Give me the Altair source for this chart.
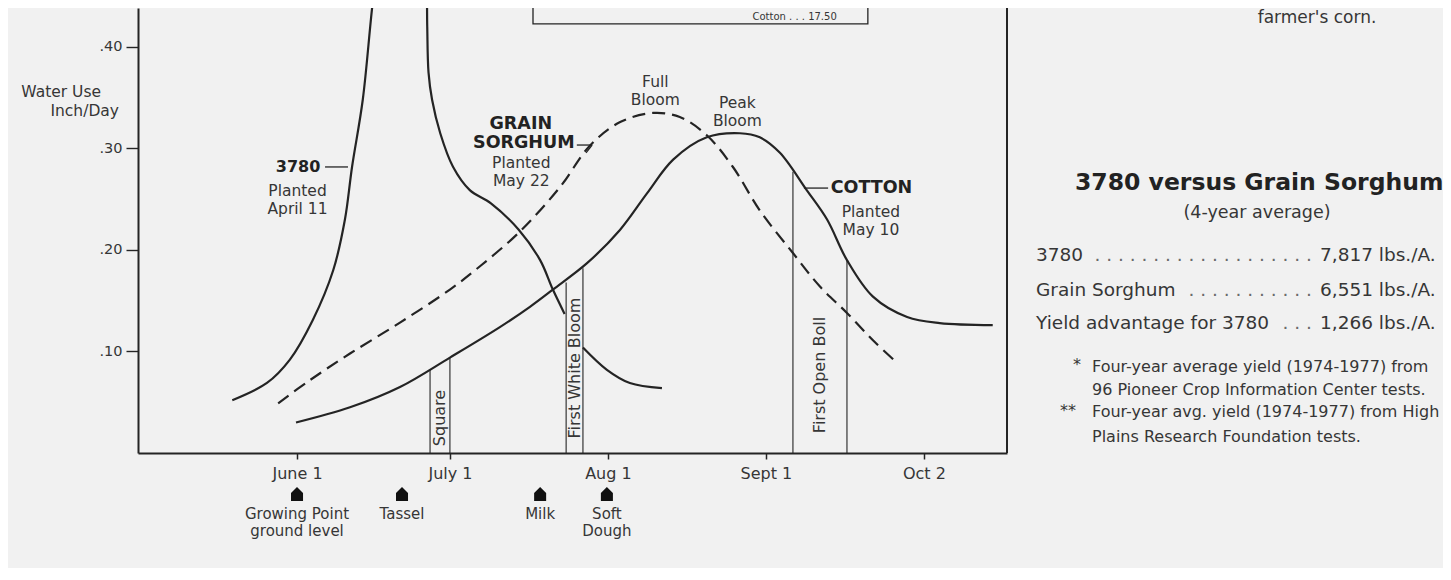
import altair as alt
import pandas as pd

# ---------------- data (day of year 1978, water use inch/day) ----------------
corn_day = [139.3, 146.1, 150.6, 155.1, 159.1, 161.4, 162.8, 164.9, 166.9, 168.5,
            171.0, 174.0, 176.5, 177.4, 177.55, 177.8, 178.5, 180.1, 182.6, 185.9,
            190.05, 195.5, 199.7, 202.2, 204.5, 208.1, 212.8, 217.3, 223.6]
corn_use = [0.052, 0.069, 0.092, 0.131, 0.180, 0.230, 0.282, 0.348, 0.446, 0.505,
            0.545, 0.560, 0.530, 0.470, 0.420, 0.375, 0.348, 0.315, 0.282, 0.259,
            0.246, 0.220, 0.190, 0.161, 0.137, 0.104, 0.082, 0.069, 0.064]

sorghum_day = [148.3, 154.6, 162.4, 172.2, 182.0, 187.9, 195.7, 203.6, 209.5, 215.4,
               221.8, 227.1, 232.4, 237.5, 242.8, 249.3, 254.6, 259.9, 265.0, 269.7]
sorghum_use = [0.049, 0.072, 0.098, 0.1285, 0.161, 0.184, 0.218, 0.262, 0.303, 0.326,
               0.335, 0.331, 0.313, 0.282, 0.239, 0.197, 0.164, 0.138, 0.111, 0.089]

cotton_day = [151.8, 162.4, 172.2, 182.0, 191.8, 197.7, 202.2, 208.9, 215.4, 220.7,
              225.8, 232.4, 238.9, 242.8, 246.7, 252.0, 256.0, 259.9, 265.0, 271.7,
              278.1, 288.5]
cotton_use = [0.030, 0.045, 0.065, 0.094, 0.124, 0.144, 0.161, 0.187, 0.220, 0.256,
              0.289, 0.311, 0.315, 0.311, 0.296, 0.259, 0.230, 0.190, 0.154, 0.134,
              0.128, 0.126]

tick_days = [152, 182, 213, 244, 275]
tick_labels = ["June 1", "July 1", "Aug 1", "Sept 1", "Oct 2"]
y_ticks = [0.10, 0.20, 0.30, 0.40]

stage_names = ["Square", "First White Bloom", "First Open Boll"]
stage_start = [178.1, 204.8, 249.3]
stage_end = [182.0, 208.1, 259.9]
stage_start_top = [0.082, 0.168, 0.277]
stage_end_top = [0.094, 0.182, 0.190]

corn_stage_day = [152.0, 172.6, 199.7, 212.8]
corn_stage_line1 = ["Growing Point", "Tassel", "Milk", "Soft"]
corn_stage_line2 = ["ground level", "", "", "Dough"]

yield_names = ["3780", "Grain Sorghum", "Yield advantage for 3780"]
yield_values = ["7,817", "6,551", "1,266"]
yield_dots = [19, 11, 3]

footnotes = ["Four-year average yield (1974-1977) from",
             "96 Pioneer Crop Information Center tests.",
             "Four-year avg. yield (1974-1977) from High",
             "Plains Research Foundation tests."]

# ---------------- style ----------------
FONT = "DejaVu Sans"
INK = "#242424"
TXT = "#363636"
BG = "#f1f1f1"
W, H = 869, 445

xs = alt.Scale(domain=[120.8, 291.3], nice=False, zero=False)
ys = alt.Scale(domain=[0, 0.4384], nice=False, zero=False)

label_expr = " : ".join(
    f"datum.value == {d} ? '{t}'" for d, t in zip(tick_days, tick_labels)) + " : ''"

xaxis = alt.Axis(values=tick_days, labelExpr=label_expr, title=None, grid=False,
                 domainColor=INK, domainWidth=2, tickColor=INK, tickWidth=1.5,
                 tickSize=6, labelFont=FONT, labelFontSize=16, labelColor=TXT,
                 labelPadding=6)
yaxis = alt.Axis(values=y_ticks,
                 labelExpr="replace(format(datum.value, '.2f'), '0.', '.')",
                 title=None, grid=False, domainColor=INK, domainWidth=2,
                 tickColor=INK, tickWidth=1.4, tickSize=12, labelFont=FONT,
                 labelFontSize=14.5, labelColor=TXT, labelPadding=4)

X = alt.X("day:Q", scale=xs, axis=xaxis)
Y = alt.Y("use:Q", scale=ys, axis=yaxis)


def curve(days, uses, dash=None, gap=None):
    df = pd.DataFrame({"day": days, "use": uses})
    # the 3780 curve is interrupted behind the "First White Bloom" label
    df["seg"] = 0 if gap is None else (df["day"] > gap).astype(int)
    kw = dict(interpolate="catmull-rom", clip=True, color=INK, strokeWidth=2.2)
    if dash:
        kw["strokeDash"] = dash
    return alt.Chart(df).mark_line(**kw).encode(x=X, y=Y, detail="seg:N")


layers = [
    curve(corn_day, corn_use, gap=stage_start[1]),
    curve(sorghum_day, sorghum_use, [13, 7]),
    curve(cotton_day, cotton_use),
]

# cotton stage boundary lines
stage_df = pd.DataFrame({
    "day": stage_start + stage_end,
    "use": [0.0] * 6,
    "top": stage_start_top + stage_end_top,
})
layers.append(alt.Chart(stage_df).mark_rule(color=INK, strokeWidth=1.1).encode(
    x=X, y=Y, y2="top:Q"))

# rotated stage labels
stage_lab = pd.DataFrame({
    "day": [(a + b) / 2 for a, b in zip(stage_start, stage_end)],
    "use": [0.0345, 0.0837, 0.0768],
    "text": stage_names,
})
layers.append(alt.Chart(stage_lab).mark_text(
    angle=270, font=FONT, fontSize=16, color=TXT, align="center",
    baseline="middle").encode(x=X, y=Y, text="text:N"))

# curve labels
bold_lab = pd.DataFrame({
    "day": [152.2, 195.9, 196.5, 264.7],
    "use": [0.2818, 0.324, 0.3054, 0.261],
    "text": ["3780", "GRAIN", "SORGHUM", "COTTON"],
    "fs": [16, 17.5, 17.5, 17.5],
})
layers.append(alt.Chart(bold_lab).mark_text(
    font=FONT, fontWeight="bold", color="#222222", align="center",
    baseline="middle").encode(x=X, y=Y, text="text:N",
                              size=alt.Size("fs:Q", scale=None, legend=None)))

reg_lab = pd.DataFrame({
    "day": [152.1, 152.1, 196.0, 196.0, 222.3, 222.3, 238.4, 238.4, 264.6, 264.6],
    "use": [0.258, 0.2404, 0.2857, 0.268, 0.3655, 0.3478, 0.3448, 0.327, 0.2374, 0.2197],
    "text": ["Planted", "April 11", "Planted", "May 22", "Full", "Bloom",
             "Peak", "Bloom", "Planted", "May 10"],
})
layers.append(alt.Chart(reg_lab).mark_text(
    font=FONT, fontSize=15.5, color=TXT, align="center", baseline="middle").encode(
    x=X, y=Y, text="text:N"))

# leader lines
lead = pd.DataFrame({
    "day": [157.5, 206.9, 209.9, 251.45],
    "day2": [162.0, 209.9, 208.7, 256.2],
    "use": [0.2818, 0.3034, 0.3034, 0.261],
    "use2": [0.2818, 0.3034, 0.2956, 0.261],
})
layers.append(alt.Chart(lead).mark_rule(color=INK, strokeWidth=1.3).encode(
    x=X, x2="day2:Q", y=Y, y2="use2:Q"))

# partially visible box at the top, with its last line of text
box = pd.DataFrame({"day": [198.3], "day2": [264.0], "use": [0.4227], "use2": [0.60]})
layers.append(alt.Chart(box).mark_rect(clip=True, fillOpacity=0, stroke=INK,
                                       strokeWidth=1.3).encode(
    x=X, x2="day2:Q", y=Y, y2="use2:Q"))
box_txt = pd.DataFrame({"day": [257.9], "use": [0.4266], "text": ["Cotton . . . 17.50"]})
layers.append(alt.Chart(box_txt).mark_text(
    font=FONT, fontSize=10, color=TXT, align="right",
    baseline="alphabetic").encode(x=X, y=Y, text="text:N"))

# corn growth stage markers below the axis
house = "M-0.85,1 L-0.85,-0.15 L0,-1 L0.85,-0.15 L0.85,1 Z"
mk = pd.DataFrame({"day": corn_stage_day})
layers.append(alt.Chart(mk).mark_point(shape=house, filled=True, size=200,
                                       color="#111111", opacity=1).encode(
    x=X, y=alt.value(486)))
l1 = pd.DataFrame({"day": corn_stage_day, "text": corn_stage_line1})
layers.append(alt.Chart(l1).mark_text(font=FONT, fontSize=15, color=TXT,
                                      baseline="middle").encode(
    x=X, y=alt.value(506), text="text:N"))
l2 = pd.DataFrame({"day": [d for d, t in zip(corn_stage_day, corn_stage_line2) if t],
                   "text": [t for t in corn_stage_line2 if t]})
layers.append(alt.Chart(l2).mark_text(font=FONT, fontSize=15, color=TXT,
                                      baseline="middle").encode(
    x=X, y=alt.value(523), text="text:N"))

# right frame line
one = pd.DataFrame({"a": [0]})
layers.append(alt.Chart(one).mark_rule(color=INK, strokeWidth=2).encode(
    x=alt.value(W), y=alt.value(-2), y2=alt.value(H)))


def txt(s, px, py, size, weight="normal", align="left", color=TXT, baseline="middle"):
    return alt.Chart(one).mark_text(
        font=FONT, fontSize=size, fontWeight=weight, align=align,
        baseline=baseline, color=color).encode(
        x=alt.value(px), y=alt.value(py), text=alt.value(s))


# y-axis title
layers.append(txt("Water Use", -37, 84, 15.5, align="right"))
layers.append(txt("Inch/Day", -19, 103, 15.5, align="right"))

# right-hand panel
layers.append(txt("farmer's corn.", 1179, 15, 17, align="center", baseline="alphabetic"))
layers.append(txt("3780 versus Grain Sorghum", 937, 175, 23.5, weight="bold",
                  color="#222222"))
layers.append(txt("(4-year average)", 1119, 205, 17.5, align="center"))
row_y = [247, 282, 315]
for name, val, nd, ry in zip(yield_names, yield_values, yield_dots, row_y):
    layers.append(txt(name, 898, ry, 18.5))
    layers.append(txt(("." + "\u00a0") * (nd - 1) + ".", 1174, ry, 18.5,
                      align="right", color="#6a6a6a"))
    layers.append(txt(f"{val} lbs./A.", 1182, ry, 18.5))

layers.append(txt("*", 935, 357, 16))
layers.append(txt("**", 922, 403, 16))
for line, fy in zip(footnotes, [359, 382, 404, 429]):
    layers.append(txt(line, 954, fy, 16))

chart = alt.layer(*layers).properties(
    width=W, height=H,
    padding={"left": 130, "top": 0, "right": 436, "bottom": 115},
    autosize=alt.AutoSizeParams(type="none"),
    background=BG,
).configure_view(stroke=None)

chart.save("out.html", embed_options={"renderer": "svg", "actions": False})
